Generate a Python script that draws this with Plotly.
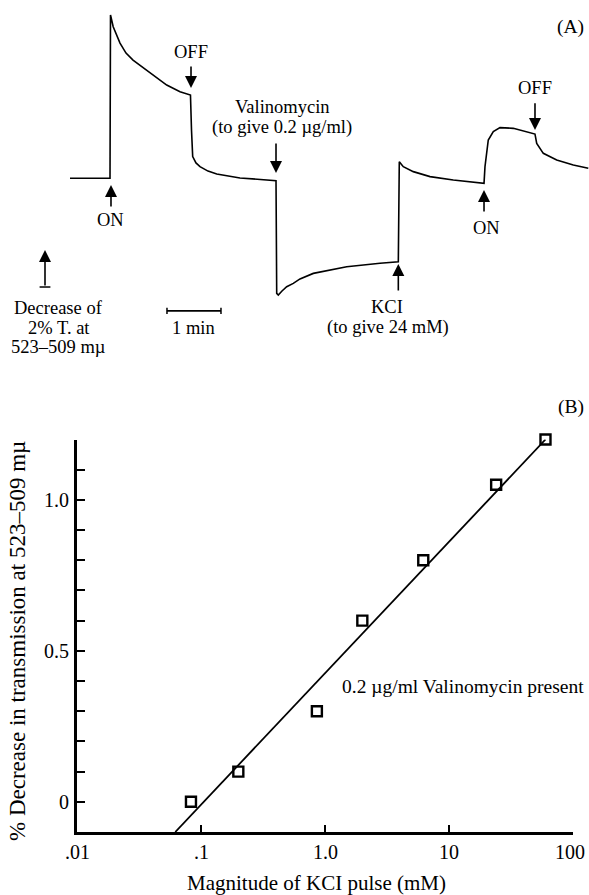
import math
import plotly.graph_objects as go

# ---------------- Panel A : recorder trace ----------------
trace_time = [0.0, 0.741, 0.75, 0.80, 0.926, 1.037, 1.167, 1.481, 1.791, 2.037, 2.231,
              2.25, 2.272, 2.333, 2.407, 2.556, 2.717, 3.148, 3.643, 3.815,
              3.828, 3.857, 3.926, 4.013, 4.135, 4.259, 4.506, 4.815, 5.124, 5.741, 6.080,
              6.098, 6.172, 6.357, 6.667, 7.098, 7.593, 7.667,
              7.685, 7.746, 7.839, 7.963, 8.209, 8.611,
              8.643, 8.765, 9.013, 9.320, 9.598]
trace_decrease = [0.0, 0.0, 8.83, 8.19, 7.31, 6.77, 6.39, 5.69, 5.04, 4.68, 4.50,
                  2.61, 1.17, 0.83, 0.63, 0.39, 0.23, 0.02, -0.09, -0.13,
                  -6.22, -6.31, -6.09, -5.86, -5.68, -5.44, -5.14, -4.96, -4.78, -4.59, -4.51,
                  0.90, 0.63, 0.36, 0.09, -0.09, -0.24, -0.27,
                  0.63, 2.07, 2.52, 2.74, 2.70, 2.39,
                  1.89, 1.35, 0.99, 0.72, 0.54]

# ---------------- Panel B : dose response ----------------
kcl_mM = [0.083, 0.2, 0.86, 2.0, 6.2, 24, 60]
pct_decrease = [0.0, 0.10, 0.30, 0.60, 0.80, 1.05, 1.20]
fit_x = [0.062, 60]
fit_y = [-0.1, 1.2]
x_tick_vals = [0.01, 0.1, 1, 10, 100]
x_tick_text = [".01", ".1", "1.0", "10", "100"]
y_tick_vals = [0.0, 0.1, 0.2, 0.3, 0.4, 0.5, 0.6, 0.7, 0.8, 0.9, 1.0, 1.1, 1.2]
y_label_vals = [0.0, 0.5, 1.0]
y_label_text = ["0", "0.5", "1.0"]

FONT = "Liberation Serif"
W, H = 589, 895

fig = go.Figure()
fig.add_trace(go.Scatter(x=trace_time, y=trace_decrease, mode="lines",
                         line=dict(color="black", width=1.6), xaxis="x", yaxis="y",
                         showlegend=False, hoverinfo="skip"))
fig.add_trace(go.Scatter(x=fit_x, y=fit_y, mode="lines",
                         line=dict(color="black", width=1.8), xaxis="x2", yaxis="y2",
                         showlegend=False, cliponaxis=False))
fig.add_trace(go.Scatter(x=kcl_mM, y=pct_decrease, mode="markers", cliponaxis=False,
                         marker=dict(symbol="square-open", size=10, color="black",
                                     line=dict(color="black", width=2.4)),
                         xaxis="x2", yaxis="y2", showlegend=False))

fsA = 18.5
fsB = 19.5
fsT = 20
ann = []

def arrow(x, y_tip, y_tail):
    ann.append(dict(x=x, y=y_tip, ax=x, ay=y_tail, xref="x", yref="y", axref="x", ayref="y",
                    text="", showarrow=True, arrowhead=2, arrowsize=1.5, arrowwidth=1.6,
                    arrowcolor="black", standoff=0, startstandoff=0))

def label(x, y, t, size=fsA, xanchor="center"):
    ann.append(dict(x=x, y=y, xref="x", yref="y", text=t, showarrow=False,
                    font=dict(family=FONT, size=size, color="black"),
                    xanchor=xanchor, yanchor="middle"))

arrow(0.759, -0.36, -1.60); label(0.759, -2.25, "ON")
arrow(2.241, 4.88, 6.12); label(2.241, 6.83, "OFF")
arrow(3.815, 0.29, 1.96); label(3.926, 3.85, "Valinomycin"); label(3.926, 2.77, "(to give 0.2 µg/ml)")
arrow(6.08, -4.63, -6.15); label(5.865, -6.94, "KCI"); label(5.88, -8.09, "(to give 24 mM)")
arrow(7.667, -0.63, -1.88); label(7.716, -2.69, "ON")
arrow(8.611, 2.61, 4.14); label(8.611, 4.88, "OFF")
arrow(-0.463, -3.876, -5.876)
label(-0.204, -7.01, "Decrease of"); label(-0.204, -8.09, "2% T. at"); label(-0.204, -9.12, "523–509 mµ")
label(2.296, -8.09, "1 min")

ann.append(dict(x=586 / W, y=1 - 27 / H, xref="paper", yref="paper", text="(A)", showarrow=False,
                font=dict(family=FONT, size=fsB, color="black"), xanchor="right", yanchor="middle"))
ann.append(dict(x=586 / W, y=1 - 407 / H, xref="paper", yref="paper", text="(B)", showarrow=False,
                font=dict(family=FONT, size=fsB, color="black"), xanchor="right", yanchor="middle"))
ann.append(dict(x=586 / W, y=1 - 686 / H, xref="paper", yref="paper",
                text="0.2 µg/ml Valinomycin present", showarrow=False,
                font=dict(family=FONT, size=fsB, color="black"), xanchor="right", yanchor="middle"))
ann.append(dict(x=316 / W, y=1 - 883 / H, xref="paper", yref="paper",
                text="Magnitude of KCI pulse (mM)", showarrow=False,
                font=dict(family=FONT, size=21, color="black"), xanchor="center", yanchor="middle"))
ann.append(dict(x=17 / W, y=1 - 641 / H, xref="paper", yref="paper",
                text="% Decrease in transmission at 523–509 mµ", showarrow=False, textangle=-90,
                font=dict(family=FONT, size=23, color="black"), xanchor="center", yanchor="middle"))
# y tick labels (close to the axis, as in the original)
for v, t in zip(y_label_vals, y_label_text):
    ann.append(dict(x=71 / W, y=v, xref="paper", yref="y2", text=t, showarrow=False,
                    font=dict(family=FONT, size=fsT, color="black"), xanchor="right", yanchor="middle"))
# x tick labels (annotations on a log axis take log10 positions); last one kept inside the page
for v, t in zip(x_tick_vals, x_tick_text):
    last = v == x_tick_vals[-1]
    ann.append(dict(x=(587 / W) if last else math.log10(v), y=1 - 852 / H,
                    xref="paper" if last else "x2", yref="paper", text=t, showarrow=False,
                    font=dict(family=FONT, size=fsT, color="black"),
                    xanchor="right" if last else "center", yanchor="middle"))

shapes = [
    dict(type="line", xref="x", yref="y", x0=-0.463 - 0.1, x1=-0.463 + 0.1, y0=-5.876, y1=-5.876,
         line=dict(color="black", width=1.5)),
    dict(type="line", xref="x", yref="y", x0=1.796, x1=2.796, y0=-7.17, y1=-7.17,
         line=dict(color="black", width=1.8)),
    dict(type="line", xref="x", yref="y", x0=1.796, x1=1.796, y0=-7.17 - 0.17, y1=-7.17 + 0.17,
         line=dict(color="black", width=1.5)),
    dict(type="line", xref="x", yref="y", x0=2.796, x1=2.796, y0=-7.17 - 0.17, y1=-7.17 + 0.17,
         line=dict(color="black", width=1.5)),
]

xB0, xB1 = 77 / W, 573 / W
yB0, yB1 = 1 - 832 / H, 1 - 439.5 / H

fig.update_layout(
    width=W, height=H, margin=dict(l=0, r=0, t=0, b=0),
    paper_bgcolor="white", plot_bgcolor="rgba(0,0,0,0)",
    font=dict(family=FONT, color="black"),
    xaxis=dict(domain=[0, 1], range=[-70 / 54, (W - 70) / 54], visible=False),
    yaxis=dict(domain=[0, 1], range=[(178.3 - H) / 18.5, 178.3 / 18.5], visible=False),
    xaxis2=dict(domain=[xB0, xB1], type="log", range=[-2, 2], anchor="y2",
                showline=True, linecolor="black", linewidth=2.5, showgrid=False, zeroline=False,
                ticks="inside", ticklen=7, tickwidth=2, tickcolor="black",
                tickvals=x_tick_vals, showticklabels=False),
    yaxis2=dict(domain=[yB0, yB1], range=[-0.1, 1.2], anchor="x2",
                showline=True, linecolor="black", linewidth=2.5, showgrid=False, zeroline=False,
                ticks="inside", ticklen=8, tickwidth=1.8, tickcolor="black",
                tickvals=y_tick_vals, showticklabels=False),
    annotations=ann, shapes=shapes, showlegend=False,
)

fig.write_html("out.html")
